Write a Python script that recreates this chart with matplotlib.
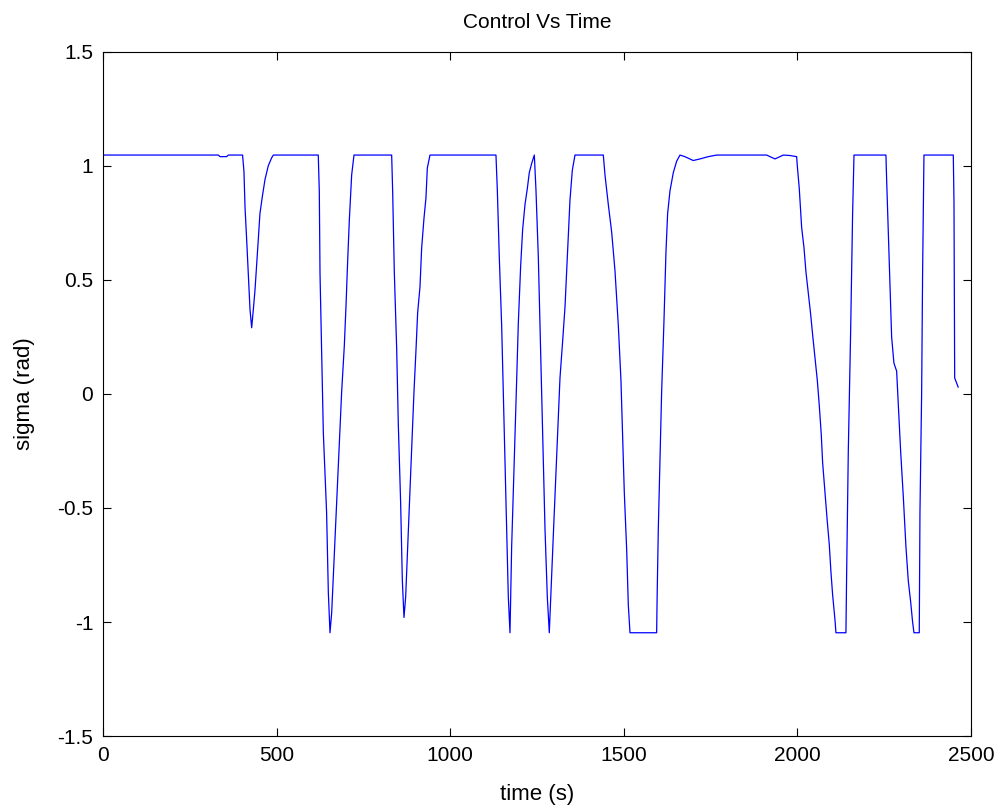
import numpy as np
import matplotlib
matplotlib.use('Agg')
import matplotlib.pyplot as plt

# time (s) and bank angle sigma (rad)
time = [0, 332, 337, 356, 361, 402, 406, 409, 413.8, 418.6, 423.4, 428.2, 433,
        437.8, 442.6, 447.4, 452, 458.9, 466.6, 476, 485.8, 490.6,
        620, 623, 625, 629.8, 634.6, 644, 649, 653.8, 658.6, 663.4, 668, 673,
        677.8, 682.6, 687.4, 695, 700, 704.6, 709.4, 716.2, 722.9,
        831.4, 834.3, 839, 845.8, 850.6, 857.3, 862.1, 866.9, 871.7, 876.5,
        881.3, 886.1, 890.9, 895.7, 901.4, 906.2, 913, 917.8, 924.5, 930.2,
        934.1, 941.8,
        1131.8, 1135.7, 1141.4, 1148.2, 1153, 1157.8, 1162.6, 1167.4, 1172.2,
        1177, 1181.8, 1186.6, 1191.4, 1196.2, 1202.9, 1208.6, 1215.4, 1222.1,
        1227.8, 1234.6, 1242.3, 1247, 1253.8, 1258.6, 1263.4, 1268.2, 1273,
        1279.7, 1285.4, 1292.2, 1297, 1301.8, 1306.6, 1311.4, 1316.2, 1323.8,
        1330.6, 1335.4, 1340.2, 1345, 1351.7, 1359.4,
        1441, 1445.8, 1455.4, 1465, 1474.6, 1484.2, 1491.8, 1496.6, 1501.4,
        1508.2, 1513, 1517.8, 1594.6, 1596, 1599.4, 1604.2, 1609, 1615.7,
        1621.4, 1626.2, 1633, 1642.6, 1652.2, 1661.8, 1676, 1700, 1719.4,
        1743.4, 1767.4, 1911.4, 1935.4, 1959.4, 1978.6, 1997.8,
        1999.7, 2005.4, 2012.2, 2019, 2024.6, 2031.4, 2038.1, 2043.8, 2050.6,
        2057.3, 2063, 2068.8, 2072.6, 2079.4, 2086.1, 2091.8, 2096.6, 2101.4,
        2108.2, 2111, 2139.8, 2141.8, 2146.6, 2153.3, 2159, 2163,
        2255, 2257, 2261.8, 2266.6, 2271.4, 2278, 2285.8, 2290.6, 2297.3, 2305,
        2312.6, 2319.4, 2326.1, 2331.8, 2335.7, 2351, 2353, 2357.8, 2360.6,
        2364.5, 2449, 2451, 2453, 2463]

sigma = [1.047, 1.047, 1.04, 1.04, 1.047, 1.047, 0.975, 0.82, 0.675, 0.52, 0.37,
         0.29, 0.37, 0.456, 0.566, 0.68, 0.79, 0.865, 0.94, 1.0, 1.035, 1.047,
         1.047, 0.887, 0.53, 0.18, -0.17, -0.52, -0.87, -1.047, -0.96, -0.80,
         -0.65, -0.48, -0.32, -0.165, 0.01, 0.21, 0.39, 0.58, 0.76, 0.96, 1.047,
         1.047, 0.887, 0.535, 0.2, -0.136, -0.48, -0.816, -0.98, -0.89, -0.71,
         -0.53, -0.355, -0.17, 0.01, 0.19, 0.355, 0.47, 0.64, 0.77, 0.86,
         0.99, 1.047,
         1.047, 0.895, 0.60, 0.30, 0.0, -0.30, -0.60, -0.89, -1.047,
         -0.67, -0.43, -0.18, 0.06, 0.31, 0.56, 0.72, 0.83, 0.90,
         0.97, 1.01, 1.047, 0.895, 0.6, 0.30, 0.0, -0.30, -0.59,
         -0.89, -1.047, -0.79, -0.62, -0.45, -0.28, -0.11, 0.07, 0.23,
         0.38, 0.54, 0.69, 0.85, 0.98, 1.047,
         1.047, 0.96, 0.83, 0.71, 0.54, 0.30, 0.06, -0.18, -0.43,
         -0.68, -0.925, -1.047, -1.047, -0.89, -0.59, -0.29, 0.01, 0.32,
         0.62, 0.79, 0.89, 0.97, 1.02, 1.047, 1.04, 1.023, 1.03,
         1.04, 1.047, 1.047, 1.03, 1.047, 1.045, 1.04,
         1.0, 0.90, 0.73, 0.64, 0.535, 0.44, 0.35, 0.26, 0.16,
         0.06, -0.05, -0.18, -0.30, -0.43, -0.56, -0.66, -0.78, -0.88,
         -0.99, -1.047, -1.047, -0.79, -0.25, 0.27, 0.79, 1.047,
         1.047, 0.94, 0.71, 0.48, 0.25, 0.135, 0.10, -0.05, -0.25, -0.45,
         -0.67, -0.82, -0.91, -1.0, -1.047, -1.047, -0.52, 0.0, 0.53,
         1.047, 1.047, 0.84, 0.07, 0.03]

xticks = [0, 500, 1000, 1500, 2000, 2500]
yticks = [-1.5, -1, -0.5, 0, 0.5, 1, 1.5]
ytick_labels = ['-1.5', '-1', '-0.5', '0', '0.5', '1', '1.5']

plt.rcParams['font.family'] = ['Liberation Sans', 'DejaVu Sans']

fig = plt.figure(figsize=(10, 8.08), dpi=100)
ax = fig.add_axes([0.103, 0.089, 0.868, 0.847])

ax.plot(time, sigma, color='#0000ff', linewidth=0.9)

ax.set_xlim(0, 2500)
ax.set_ylim(-1.5, 1.5)
ax.set_xticks(xticks)
ax.set_yticks(yticks)
ax.set_yticklabels(ytick_labels)
ax.tick_params(direction='in', length=6, width=0.8, top=True, right=True,
               labelsize=15, pad=7, colors='black')
for s in ax.spines.values():
    s.set_linewidth(0.8)

ax.set_title('Control Vs Time', fontsize=15, pad=17)
ax.set_xlabel('time (s)', fontsize=16, labelpad=14)
ax.set_ylabel('sigma (rad)', fontsize=16, labelpad=16)

fig.savefig('out.png', dpi=100)
